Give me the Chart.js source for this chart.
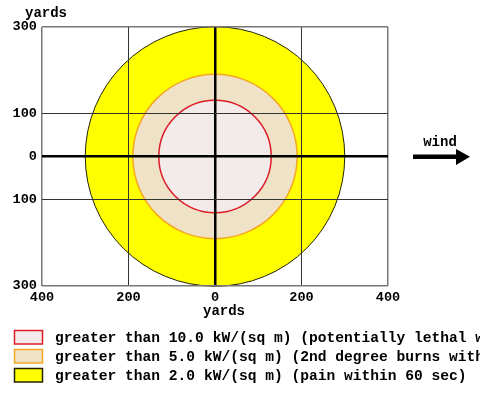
<!DOCTYPE html>
<html>
<head>
<meta charset="utf-8">
<script src="https://cdn.jsdelivr.net/npm/chart.js@4/dist/chart.umd.min.js"></script>
<style>
  html, body { margin: 0; padding: 0; background: #ffffff; }
  #wrap { width: 480px; height: 397px; position: relative; }
</style>
</head>
<body>
<div id="wrap"><canvas id="c" width="480" height="397"></canvas></div>
<script>
// ---- data ----
const zoneLabels = [
  "greater than 10.0 kW/(sq m) (potentially lethal within 60 sec)",
  "greater than 5.0 kW/(sq m) (2nd degree burns within 60 sec)",
  "greater than 2.0 kW/(sq m) (pain within 60 sec)"
];
const zoneRadii = [130, 190, 300];          // yards
const zoneCenterX = [0, 0, 0];
const zoneCenterY = [0, 0, 0];
const zoneFill = ["#F3EAEA", "#EFE2C6", "#FFFF00"];
const zoneEdge = ["#DD1C28", "#F5A623", "#222200"];
const zoneEdgeWidth = [1.5, 1.5, 1];

const xTickValues = [-400, -200, 0, 200, 400];
const xTickLabels = ["400", "200", "0", "200", "400"];
const yTickValues = [-300, -100, 0, 100, 300];
const yTickLabels = ["300", "100", "0", "100", "300"];
const axisTitle = "yards";
const windLabel = "wind";

const FONT = "'Liberation Mono', 'Courier New', monospace";

const datasets = zoneLabels.map((lab, i) => ({
  label: lab,
  data: [{ x: zoneCenterX[i], y: zoneCenterY[i] }],
  backgroundColor: zoneFill[i],
  borderColor: zoneEdge[i],
  borderWidth: zoneEdgeWidth[i],
  hoverRadius: 0,
  pointRadius: (ctx) => {
    const s = ctx.chart.scales.x;
    return Math.abs(s.getPixelForValue(zoneRadii[i]) - s.getPixelForValue(0));
  },
  pointHoverRadius: (ctx) => {
    const s = ctx.chart.scales.x;
    return Math.abs(s.getPixelForValue(zoneRadii[i]) - s.getPixelForValue(0));
  },
  clip: false
}));

const extrasPlugin = {
  id: 'extras',
  afterDraw(chart) {
    const c = chart.ctx;
    c.save();
    c.fillStyle = '#000';
    c.font = "bold 14px " + FONT;
    c.textBaseline = 'alphabetic';
    c.textAlign = 'center';
    // axis titles
    c.fillText(axisTitle, 46, 17);
    c.fillText(axisTitle, 224, 315);
    // wind label + arrow
    c.fillText(windLabel, 440, 146);
    c.fillRect(413, 154.5, 45, 4.5);
    c.beginPath();
    c.moveTo(456, 149);
    c.lineTo(470, 156.8);
    c.lineTo(456, 165);
    c.closePath();
    c.fill();
    // legend
    c.textAlign = 'left';
    c.font = "bold 14.6px " + FONT;
    const rowsY = [330.5, 349.5, 368.5];
    zoneLabels.forEach((lab, i) => {
      const y = rowsY[i];
      c.fillStyle = zoneFill[i];
      c.fillRect(14.5, y, 28, 13.5);
      c.strokeStyle = zoneEdge[i];
      c.lineWidth = 1.5;
      c.strokeRect(14.5, y, 28, 13.5);
      c.fillStyle = '#000';
      c.fillText(lab, 55, y + 11.3);
    });
    c.restore();
  }
};

function gridColor(ctx, edgeVals) {
  const v = ctx.tick && ctx.tick.value;
  if (v === 0) return '#000';
  if (edgeVals.includes(v)) return '#777';
  return '#333';
}
function gridWidth(ctx, edgeVals) {
  const v = ctx.tick && ctx.tick.value;
  if (v === 0) return 2.5;
  if (edgeVals.includes(v)) return 1.5;
  return 1;
}

new Chart(document.getElementById('c'), {
  type: 'scatter',
  data: { datasets },
  options: {
    responsive: false,
    animation: false,
    events: [],
    layout: { padding: { left: 0, top: 27, right: 92, bottom: 0 } },
    plugins: { legend: { display: false }, tooltip: { enabled: false } },
    scales: {
      x: {
        type: 'linear', min: -400, max: 400,
        afterBuildTicks: (s) => { s.ticks = xTickValues.map(v => ({ value: v })); },
        afterFit: (s) => { s.height = 111; },
        ticks: {
          padding: 3, color: '#000', maxRotation: 0, autoSkip: false,
          font: { family: FONT, size: 13.6, weight: 'bold' },
          callback: (v, i) => xTickLabels[i]
        },
        grid: {
          z: 1, drawTicks: false,
          color: (ctx) => gridColor(ctx, [-400, 400]),
          lineWidth: (ctx) => gridWidth(ctx, [-400, 400])
        },
        border: { display: false }
      },
      y: {
        type: 'linear', min: -300, max: 300,
        afterBuildTicks: (s) => { s.ticks = yTickValues.map(v => ({ value: v })); },
        afterFit: (s) => { s.width = 42; },
        ticks: {
          padding: 5, color: '#000', autoSkip: false,
          font: { family: FONT, size: 13.6, weight: 'bold' },
          callback: (v, i) => yTickLabels[i]
        },
        grid: {
          z: 1, drawTicks: false,
          color: (ctx) => gridColor(ctx, [-300, 300]),
          lineWidth: (ctx) => gridWidth(ctx, [-300, 300])
        },
        border: { display: false }
      }
    }
  },
  plugins: [extrasPlugin]
});
</script>
</body>
</html>
